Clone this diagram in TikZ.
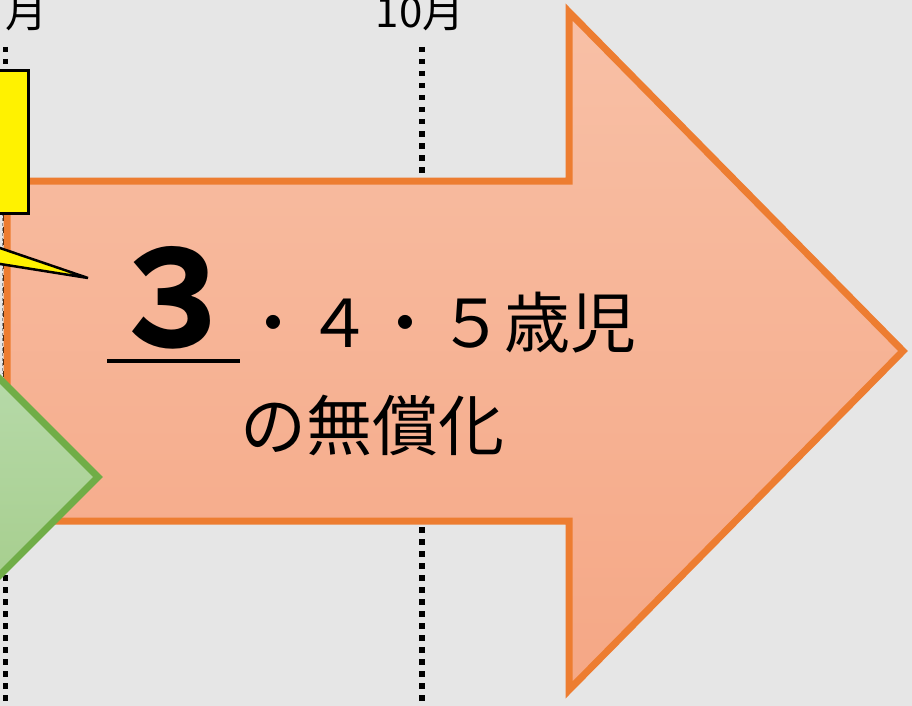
\documentclass[tikz,border=0pt]{standalone}
\usepackage{fontspec}
\newfontfamily\jpfont{Noto Sans CJK JP}
\definecolor{bggray}{RGB}{230,230,230}
\definecolor{arroworange}{RGB}{237,125,49}
\definecolor{orangetop}{RGB}{248,192,166}
\definecolor{orangebot}{RGB}{245,167,133}
\definecolor{arrowgreen}{RGB}{112,173,71}
\definecolor{greentop}{RGB}{184,219,172}
\definecolor{greenbot}{RGB}{165,205,139}
\tikzset{
  timeline/.style={line width=5.5pt, dash pattern=on 5.5pt off 6.5pt},
  monthlabel/.style={font=\jpfont\fontsize{42}{42}\selectfont, anchor=base, inner sep=0pt},
  bigtext/.style={font=\jpfont\fontsize{66}{66}\selectfont, inner sep=0pt},
}
\begin{document}
\begin{tikzpicture}[x=1pt,y=1pt,yscale=-1,xscale=1]
\useasboundingbox (0,0) rectangle (912,706);
%Background
\fill [bggray] (0,0) rectangle (912,706);

%Dotted Lines
\draw [timeline] (5.5,47) -- (5.5,712);
\draw [timeline] (422,47) -- (422,712);

%Shape: Right Arrow (orange)
\draw [draw=arroworange, line width=7pt, top color=orangetop, bottom color=orangebot] (7,181) -- (569,181) -- (569,12) -- (903,351) -- (569,690) -- (569,521) -- (7,521) -- cycle ;

%Dashed Line
\draw [color={rgb, 255:red, 140; green, 140; blue, 140}, line width=0.8pt, dash pattern=on 3pt off 2pt] (2.5,213) -- (2.5,374) ;

%Shape: Right Arrow (green)
\draw [draw=arrowgreen, line width=7pt, top color=greentop, bottom color=greenbot] (-30,349) -- (98,477) -- (-30,605) -- cycle ;

%Shape: Callout (yellow)
\draw [fill=yellow, line width=3pt] (-10,71) rectangle (28,213) ;
\draw [fill=yellow, line width=2.5pt] (-6,246) -- (88,278) -- (-6,263) -- cycle ;

% Text Node
\draw (5,28) node [monthlabel, anchor=base west] (leftmonth) {月};
% Text Node
\draw (420,28) node [monthlabel] (october) {10月};
% Text Node
\draw (107,347) node [bigtext, anchor=base west, font=\jpfont\bfseries\fontsize{133}{133}\selectfont] (three) {３};
\draw [line width=4.5pt] ([yshift=14pt]three.base west) -- ([yshift=14pt]three.base east) ;
% Text Node
\draw (three.base east) node [bigtext, anchor=base west] (ages) {・４・５歳児};
% Text Node
\draw (372,450) node [bigtext, anchor=base] (free) {の無償化};

\end{tikzpicture}
\end{document}
